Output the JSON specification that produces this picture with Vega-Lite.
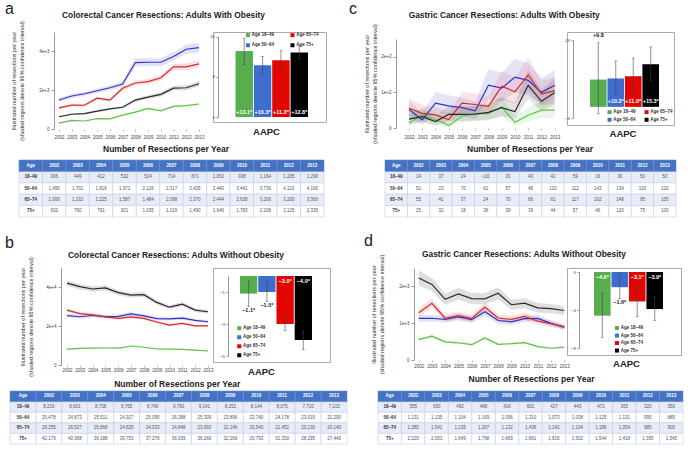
{
"$schema": "https://vega.github.io/schema/vega-lite/v6.json",
"padding": {"left": 5, "top": 0, "right": 2, "bottom": 2},
"background": "white",
"datasets": {
"la": [
{"age":"18–49","year":2002,"v":306,"lo":285,"hi":328},{"age":"18–49","year":2003,"v":449,"lo":420,"hi":478},{"age":"18–49","year":2004,"v":412,"lo":385,"hi":440},{"age":"18–49","year":2005,"v":532,"lo":500,"hi":565},{"age":"18–49","year":2006,"v":524,"lo":492,"hi":556},{"age":"18–49","year":2007,"v":714,"lo":675,"hi":753},{"age":"18–49","year":2008,"v":871,"lo":825,"hi":917},{"age":"18–49","year":2009,"v":1062,"lo":1008,"hi":1116},{"age":"18–49","year":2010,"v":938,"lo":888,"hi":988},{"age":"18–49","year":2011,"v":1164,"lo":1105,"hi":1223},{"age":"18–49","year":2012,"v":1205,"lo":1145,"hi":1265},{"age":"18–49","year":2013,"v":1290,"lo":1228,"hi":1352},
{"age":"50–64","year":2002,"v":1495,"lo":1405,"hi":1585},{"age":"50–64","year":2003,"v":1702,"lo":1600,"hi":1804},{"age":"50–64","year":2004,"v":1816,"lo":1707,"hi":1925},{"age":"50–64","year":2005,"v":1971,"lo":1853,"hi":2089},{"age":"50–64","year":2006,"v":2126,"lo":1998,"hi":2254},{"age":"50–64","year":2007,"v":2317,"lo":2178,"hi":2456},{"age":"50–64","year":2008,"v":3426,"lo":3220,"hi":3632},{"age":"50–64","year":2009,"v":3440,"lo":3234,"hi":3646},{"age":"50–64","year":2010,"v":3441,"lo":3235,"hi":3647},{"age":"50–64","year":2011,"v":3736,"lo":3512,"hi":3960},{"age":"50–64","year":2012,"v":4110,"lo":3863,"hi":4357},{"age":"50–64","year":2013,"v":4190,"lo":3939,"hi":4441},
{"age":"65–74","year":2002,"v":1093,"lo":1033,"hi":1153},{"age":"65–74","year":2003,"v":1232,"lo":1164,"hi":1300},{"age":"65–74","year":2004,"v":1225,"lo":1158,"hi":1292},{"age":"65–74","year":2005,"v":1587,"lo":1500,"hi":1674},{"age":"65–74","year":2006,"v":1484,"lo":1402,"hi":1566},{"age":"65–74","year":2007,"v":2098,"lo":1983,"hi":2213},{"age":"65–74","year":2008,"v":2370,"lo":2240,"hi":2500},{"age":"65–74","year":2009,"v":2444,"lo":2310,"hi":2578},{"age":"65–74","year":2010,"v":2638,"lo":2493,"hi":2783},{"age":"65–74","year":2011,"v":3206,"lo":3030,"hi":3382},{"age":"65–74","year":2012,"v":3200,"lo":3024,"hi":3376},{"age":"65–74","year":2013,"v":3360,"lo":3175,"hi":3545},
{"age":"75+","year":2002,"v":632,"lo":594,"hi":670},{"age":"75+","year":2003,"v":760,"lo":714,"hi":806},{"age":"75+","year":2004,"v":791,"lo":744,"hi":838},{"age":"75+","year":2005,"v":921,"lo":866,"hi":976},{"age":"75+","year":2006,"v":1035,"lo":973,"hi":1097},{"age":"75+","year":2007,"v":1119,"lo":1052,"hi":1186},{"age":"75+","year":2008,"v":1490,"lo":1401,"hi":1579},{"age":"75+","year":2009,"v":1646,"lo":1547,"hi":1745},{"age":"75+","year":2010,"v":1783,"lo":1676,"hi":1890},{"age":"75+","year":2011,"v":2108,"lo":1982,"hi":2234},{"age":"75+","year":2012,"v":2125,"lo":1998,"hi":2252},{"age":"75+","year":2013,"v":2335,"lo":2195,"hi":2475}
],
"lb": [
{"age":"18–49","year":2002,"v":8216,"lo":7970,"hi":8460},{"age":"18–49","year":2003,"v":8601,"lo":8345,"hi":8860},{"age":"18–49","year":2004,"v":8738,"lo":8475,"hi":9000},{"age":"18–49","year":2005,"v":8765,"lo":8500,"hi":9030},{"age":"18–49","year":2006,"v":8740,"lo":8480,"hi":9000},{"age":"18–49","year":2007,"v":9783,"lo":9490,"hi":10080},{"age":"18–49","year":2008,"v":9141,"lo":8870,"hi":9415},{"age":"18–49","year":2009,"v":8252,"lo":8005,"hi":8500},{"age":"18–49","year":2010,"v":8144,"lo":7900,"hi":8390},{"age":"18–49","year":2011,"v":8075,"lo":7830,"hi":8320},{"age":"18–49","year":2012,"v":7710,"lo":7480,"hi":7940},{"age":"18–49","year":2013,"v":7215,"lo":7000,"hi":7430},
{"age":"50–64","year":2002,"v":25478,"lo":24590,"hi":26370},{"age":"50–64","year":2003,"v":24873,"lo":24000,"hi":25745},{"age":"50–64","year":2004,"v":25511,"lo":24620,"hi":26400},{"age":"50–64","year":2005,"v":24927,"lo":24055,"hi":25800},{"age":"50–64","year":2006,"v":25095,"lo":24215,"hi":25975},{"age":"50–64","year":2007,"v":26388,"lo":25465,"hi":27310},{"age":"50–64","year":2008,"v":25309,"lo":24425,"hi":26195},{"age":"50–64","year":2009,"v":23896,"lo":23060,"hi":24735},{"age":"50–64","year":2010,"v":23740,"lo":22910,"hi":24570},{"age":"50–64","year":2011,"v":24178,"lo":23330,"hi":25025},{"age":"50–64","year":2012,"v":23015,"lo":22210,"hi":23820},{"age":"50–64","year":2013,"v":22290,"lo":21510,"hi":23070},
{"age":"65–74","year":2002,"v":28255,"lo":27265,"hi":29245},{"age":"65–74","year":2003,"v":26527,"lo":25600,"hi":27455},{"age":"65–74","year":2004,"v":25868,"lo":24960,"hi":26775},{"age":"65–74","year":2005,"v":24825,"lo":23955,"hi":25695},{"age":"65–74","year":2006,"v":24033,"lo":23190,"hi":24875},{"age":"65–74","year":2007,"v":24848,"lo":23980,"hi":25720},{"age":"65–74","year":2008,"v":23993,"lo":23155,"hi":24830},{"age":"65–74","year":2009,"v":22146,"lo":21370,"hi":22920},{"age":"65–74","year":2010,"v":20540,"lo":19820,"hi":21260},{"age":"65–74","year":2011,"v":21452,"lo":20700,"hi":22205},{"age":"65–74","year":2012,"v":20130,"lo":19425,"hi":20835},{"age":"65–74","year":2013,"v":20140,"lo":19435,"hi":20845},
{"age":"75+","year":2002,"v":42179,"lo":40700,"hi":43655},{"age":"75+","year":2003,"v":40368,"lo":38955,"hi":41780},{"age":"75+","year":2004,"v":39188,"lo":37815,"hi":40560},{"age":"75+","year":2005,"v":39753,"lo":38360,"hi":41145},{"age":"75+","year":2006,"v":37276,"lo":35970,"hi":38580},{"age":"75+","year":2007,"v":36039,"lo":34780,"hi":37300},{"age":"75+","year":2008,"v":36269,"lo":35000,"hi":37540},{"age":"75+","year":2009,"v":32269,"lo":31140,"hi":33400},{"age":"75+","year":2010,"v":29793,"lo":28750,"hi":30835},{"age":"75+","year":2011,"v":31330,"lo":30235,"hi":32425},{"age":"75+","year":2012,"v":28295,"lo":27305,"hi":29285},{"age":"75+","year":2013,"v":27440,"lo":26480,"hi":28400}
],
"lc": [
{"age":"18–49","year":2002,"v":14,"lo":5,"hi":30},{"age":"18–49","year":2003,"v":37,"lo":18,"hi":60},{"age":"18–49","year":2004,"v":24,"lo":10,"hi":45},{"age":"18–49","year":2005,"v":7,"lo":2,"hi":20,"t":"≤10"},{"age":"18–49","year":2006,"v":33,"lo":15,"hi":55},{"age":"18–49","year":2007,"v":40,"lo":20,"hi":62},{"age":"18–49","year":2008,"v":41,"lo":20,"hi":65},{"age":"18–49","year":2009,"v":59,"lo":33,"hi":88},{"age":"18–49","year":2010,"v":16,"lo":5,"hi":32},{"age":"18–49","year":2011,"v":36,"lo":18,"hi":58},{"age":"18–49","year":2012,"v":50,"lo":28,"hi":76},{"age":"18–49","year":2013,"v":50,"lo":28,"hi":76},
{"age":"50–64","year":2002,"v":52,"lo":30,"hi":78},{"age":"50–64","year":2003,"v":23,"lo":10,"hi":40},{"age":"50–64","year":2004,"v":70,"lo":42,"hi":102},{"age":"50–64","year":2005,"v":62,"lo":36,"hi":92},{"age":"50–64","year":2006,"v":57,"lo":32,"hi":86},{"age":"50–64","year":2007,"v":48,"lo":26,"hi":74},{"age":"50–64","year":2008,"v":120,"lo":80,"hi":165},{"age":"50–64","year":2009,"v":112,"lo":74,"hi":155},{"age":"50–64","year":2010,"v":143,"lo":100,"hi":195},{"age":"50–64","year":2011,"v":134,"lo":92,"hi":182},{"age":"50–64","year":2012,"v":100,"lo":66,"hi":140},{"age":"50–64","year":2013,"v":120,"lo":82,"hi":163},
{"age":"65–74","year":2002,"v":55,"lo":32,"hi":83},{"age":"65–74","year":2003,"v":41,"lo":22,"hi":65},{"age":"65–74","year":2004,"v":37,"lo":19,"hi":60},{"age":"65–74","year":2005,"v":24,"lo":10,"hi":42},{"age":"65–74","year":2006,"v":70,"lo":42,"hi":102},{"age":"65–74","year":2007,"v":66,"lo":40,"hi":97},{"age":"65–74","year":2008,"v":61,"lo":36,"hi":90},{"age":"65–74","year":2009,"v":117,"lo":80,"hi":160},{"age":"65–74","year":2010,"v":102,"lo":68,"hi":142},{"age":"65–74","year":2011,"v":149,"lo":105,"hi":198},{"age":"65–74","year":2012,"v":95,"lo":62,"hi":133},{"age":"65–74","year":2013,"v":105,"lo":70,"hi":145},
{"age":"75+","year":2002,"v":25,"lo":11,"hi":43},{"age":"75+","year":2003,"v":32,"lo":16,"hi":53},{"age":"75+","year":2004,"v":18,"lo":7,"hi":34},{"age":"75+","year":2005,"v":38,"lo":20,"hi":61},{"age":"75+","year":2006,"v":38,"lo":20,"hi":61},{"age":"75+","year":2007,"v":39,"lo":21,"hi":62},{"age":"75+","year":2008,"v":44,"lo":24,"hi":69},{"age":"75+","year":2009,"v":57,"lo":33,"hi":86},{"age":"75+","year":2010,"v":46,"lo":25,"hi":72},{"age":"75+","year":2011,"v":120,"lo":82,"hi":163},{"age":"75+","year":2012,"v":75,"lo":47,"hi":108},{"age":"75+","year":2013,"v":100,"lo":66,"hi":140}
],
"ld": [
{"age":"18–49","year":2002,"v":555,"lo":510,"hi":600},{"age":"18–49","year":2003,"v":650,"lo":598,"hi":702},{"age":"18–49","year":2004,"v":492,"lo":452,"hi":532},{"age":"18–49","year":2005,"v":468,"lo":430,"hi":506},{"age":"18–49","year":2006,"v":416,"lo":382,"hi":450},{"age":"18–49","year":2007,"v":601,"lo":553,"hi":649},{"age":"18–49","year":2008,"v":427,"lo":393,"hi":461},{"age":"18–49","year":2009,"v":443,"lo":408,"hi":478},{"age":"18–49","year":2010,"v":471,"lo":433,"hi":509},{"age":"18–49","year":2011,"v":365,"lo":336,"hi":394},{"age":"18–49","year":2012,"v":320,"lo":294,"hi":346},{"age":"18–49","year":2013,"v":350,"lo":322,"hi":378},
{"age":"50–64","year":2002,"v":1131,"lo":1040,"hi":1222},{"age":"50–64","year":2003,"v":1135,"lo":1044,"hi":1226},{"age":"50–64","year":2004,"v":1104,"lo":1016,"hi":1192},{"age":"50–64","year":2005,"v":1169,"lo":1075,"hi":1263},{"age":"50–64","year":2006,"v":1096,"lo":1008,"hi":1184},{"age":"50–64","year":2007,"v":1310,"lo":1205,"hi":1415},{"age":"50–64","year":2008,"v":1073,"lo":987,"hi":1159},{"age":"50–64","year":2009,"v":1038,"lo":955,"hi":1121},{"age":"50–64","year":2010,"v":1125,"lo":1035,"hi":1215},{"age":"50–64","year":2011,"v":1131,"lo":1040,"hi":1222},{"age":"50–64","year":2012,"v":995,"lo":915,"hi":1075},{"age":"50–64","year":2013,"v":885,"lo":814,"hi":956},
{"age":"65–74","year":2002,"v":1285,"lo":1182,"hi":1388},{"age":"65–74","year":2003,"v":1541,"lo":1418,"hi":1664},{"age":"65–74","year":2004,"v":1135,"lo":1044,"hi":1226},{"age":"65–74","year":2005,"v":1207,"lo":1110,"hi":1304},{"age":"65–74","year":2006,"v":1132,"lo":1041,"hi":1223},{"age":"65–74","year":2007,"v":1438,"lo":1323,"hi":1553},{"age":"65–74","year":2008,"v":1142,"lo":1051,"hi":1233},{"age":"65–74","year":2009,"v":1104,"lo":1016,"hi":1192},{"age":"65–74","year":2010,"v":1186,"lo":1091,"hi":1281},{"age":"65–74","year":2011,"v":1054,"lo":970,"hi":1138},{"age":"65–74","year":2012,"v":985,"lo":906,"hi":1064},{"age":"65–74","year":2013,"v":905,"lo":833,"hi":977},
{"age":"75+","year":2002,"v":2229,"lo":2030,"hi":2430},{"age":"75+","year":2003,"v":2053,"lo":1870,"hi":2238},{"age":"75+","year":2004,"v":1649,"lo":1500,"hi":1798},{"age":"75+","year":2005,"v":1798,"lo":1636,"hi":1960},{"age":"75+","year":2006,"v":1669,"lo":1519,"hi":1819},{"age":"75+","year":2007,"v":1661,"lo":1511,"hi":1811},{"age":"75+","year":2008,"v":1815,"lo":1652,"hi":1978},{"age":"75+","year":2009,"v":1502,"lo":1367,"hi":1637},{"age":"75+","year":2010,"v":1544,"lo":1405,"hi":1683},{"age":"75+","year":2011,"v":1418,"lo":1290,"hi":1546},{"age":"75+","year":2012,"v":1395,"lo":1269,"hi":1521},{"age":"75+","year":2013,"v":1345,"lo":1224,"hi":1466}
],
"ba": [{"age":"18–49","v":13.1,"lo":10.4,"hi":15.7,"lbl":"+13.1*"},{"age":"50–64","v":10.3,"lo":8.5,"hi":12.0,"lbl":"+10.3*"},{"age":"65–74","v":11.3,"lo":9.4,"hi":13.2,"lbl":"+11.3*"},{"age":"75+","v":12.8,"lo":11.4,"hi":14.2,"lbl":"+12.8*"}],
"bb": [{"age":"18–49","v":-1.1,"lo":-1.9,"hi":-0.3,"lbl":"−1.1*"},{"age":"50–64","v":-1.0,"lo":-1.6,"hi":-0.4,"lbl":"−1.0*"},{"age":"65–74","v":-3.0,"lo":-3.4,"hi":-2.5,"lbl":"−3.0*"},{"age":"75+","v":-4.0,"lo":-4.6,"hi":-3.4,"lbl":"−4.0*"}],
"bc": [{"age":"18–49","v":9.8,"lo":-2.5,"hi":23.0,"lbl":"+9.8"},{"age":"50–64","v":10.2,"lo":4.5,"hi":16.5,"lbl":"+10.2*"},{"age":"65–74","v":11.0,"lo":4.5,"hi":17.5,"lbl":"+11.0*"},{"age":"75+","v":15.3,"lo":9.3,"hi":21.5,"lbl":"+15.3*"}],
"bd": [{"age":"18–49","v":-4.6,"lo":-6.9,"hi":-2.2,"lbl":"−4.6*"},{"age":"50–64","v":-1.6,"lo":-2.8,"hi":-0.3,"lbl":"−1.6*"},{"age":"65–74","v":-3.1,"lo":-4.7,"hi":-1.3,"lbl":"−3.1*"},{"age":"75+","v":-3.9,"lo":-5.1,"hi":-2.6,"lbl":"−3.9*"}]
},
"columns": 4,
"align": "each",
"bounds": "flush",
"spacing": 0,
"resolve": {"scale": {"color": "independent"}, "legend": {"color": "independent"}},
"concat": [
{
"title": {"text": "a", "anchor": "start", "frame": "group", "fontSize": 16, "fontWeight": "normal", "dx": -5, "offset": 4},
"width": 203, "height": 97,
"data": {"name": "la"},
"encoding": {
"x": {"field": "year", "type": "ordinal", "scale": {"type": "point", "range": [49, 189], "padding": 0}, "axis": {"title": "Number of Resections per Year", "titleFontSize": 8.5, "titleFontWeight": "bold", "titleColor": "#222", "titleX": 155.5, "titlePadding": 5.1, "labelAngle": 0, "labelFontSize": 4.5, "labelColor": "#444", "labelPadding": 3.5, "labelOverlap": false, "domain": false, "tickSize": 2, "tickColor": "#bbb"}},
"color": {"field": "age", "type": "nominal", "scale": {"domain": ["18–49","50–64","65–74","75+"], "range": ["#5FC24A","#3333CC","#D52B2B","#2A2A2A"]}, "legend": null}
},
"layer": [
{"mark": {"type": "area", "opacity": 0.15}, "encoding": {"y": {"field": "lo", "type": "quantitative", "scale": {"domain": [0, 5000], "nice": false}, "axis": {"offset": -44, "title": ["Illustrated number of resections per year", "(shaded regions denote 95% confidence interval)"], "titleFontSize": 5.5, "titleFontWeight": "normal", "titleColor": "#333", "titleLineHeight": 8, "titlePadding": 14, "values": [0,1000,2000,3000,4000,5000], "format": ",", "labelOverlap": false, "labelFontSize": 4.6, "labelColor": "#444", "labelPadding": 2, "tickSize": 3, "tickColor": "#999", "domainColor": "#999", "grid": false}}, "y2": {"field": "hi"}}},
{"mark": {"type": "line", "strokeWidth": 1.2}, "encoding": {"y": {"field": "v", "type": "quantitative"}}}
]
},
{
"title": {"text": "Colorectal Cancer Resections: Adults With Obesity", "anchor": "start", "frame": "group", "fontSize": 8.4, "fontWeight": "bold", "dx": -151, "offset": 12.8},
"width": 113, "height": 90,
"view": {"stroke": "#aaaaaa", "strokeWidth": 1},
"data": {"name": "ba"},
"encoding": {
"x": {"field": "age", "type": "nominal", "sort": null, "scale": {"range": [22.5, 95], "paddingInner": 0.05, "paddingOuter": 0}, "axis": {"title": "AAPC", "titleX": 53, "labels": false, "ticks": false, "domain": false, "titleFontSize": 9.5, "titleFontWeight": "bold", "titleColor": "#222", "titlePadding": 4.7}}
},
"layer": [
{"mark": {"type": "bar"}, "encoding": {"y": {"field": "v", "type": "quantitative", "scale": {"domain": [0, 16], "range": [85, 4.5], "nice": false}, "axis": {"values": [0,4,8,12,16], "offset": -5, "title": null, "grid": false, "labelOverlap": false, "labelFontSize": 4.4, "labelColor": "#444", "labelPadding": 1.5, "tickSize": 2, "tickColor": "#999", "domainColor": "#999"}}, "color": {"field": "age", "type": "nominal", "scale": {"domain": ["18–49","50–64","65–74","75+"], "range": ["#58AD4F","#3D6DCF","#E10600","#000000"]}, "legend": {"title": null, "orient": "none", "legendX": 32.7, "legendY": 0.5, "columns": 2, "symbolType": "square", "symbolSize": 16, "symbolStrokeWidth": 0, "labelFontSize": 4.5, "labelFontWeight": "bold", "labelColor": "#333", "columnPadding": 15.5, "rowPadding": 4.5, "padding": 0, "labelOffset": 1.5, "labelExpr": "'Age ' + datum.label"}}}},
{"mark": {"type": "rule", "color": "#444", "strokeWidth": 0.6}, "encoding": {"y": {"field": "lo", "type": "quantitative"}, "y2": {"field": "hi"}}},
{"mark": {"type": "tick", "color": "#444", "thickness": 0.6, "size": 3}, "encoding": {"y": {"field": "hi", "type": "quantitative"}}},
{"mark": {"type": "tick", "color": "#444", "thickness": 0.6, "size": 3}, "encoding": {"y": {"field": "lo", "type": "quantitative"}}},
{"mark": {"type": "text", "color": "white", "fontWeight": "bold", "fontSize": 5.5, "baseline": "bottom", "dy": -2.5}, "encoding": {"y": {"datum": 0}, "text": {"field": "lbl"}}}
]
},
{
"title": {"text": "c", "anchor": "start", "frame": "group", "fontSize": 16, "fontWeight": "normal", "dx": 19, "offset": 6.5},
"width": 237, "height": 96,
"data": {"name": "lc"},
"encoding": {
"x": {"field": "year", "type": "ordinal", "scale": {"type": "point", "range": [79, 224.7], "padding": 0}, "axis": {"title": "Number of Resections per Year", "titleFontSize": 8.5, "titleFontWeight": "bold", "titleColor": "#222", "titleX": 199.5, "titlePadding": 5.1, "labelAngle": 0, "labelFontSize": 4.5, "labelColor": "#444", "labelPadding": 4.5, "labelOverlap": false, "domain": false, "tickSize": 2, "tickColor": "#bbb"}},
"color": {"field": "age", "type": "nominal", "scale": {"domain": ["18–49","50–64","65–74","75+"], "range": ["#5FC24A","#3333CC","#D52B2B","#2A2A2A"]}, "legend": null}
},
"layer": [
{"mark": {"type": "area", "opacity": 0.13}, "encoding": {"y": {"field": "lo", "type": "quantitative", "scale": {"domain": [0, 250], "range": [96, 7], "nice": false}, "axis": {"offset": -66, "title": ["Illustrated number of resections per year", "(shaded regions denote 95% confidence interval)"], "titleFontSize": 5.5, "titleFontWeight": "normal", "titleColor": "#333", "titleLineHeight": 8, "titlePadding": 3, "values": [0,50,100,150,200,250], "format": ",", "labelOverlap": false, "labelFontSize": 4.6, "labelColor": "#444", "labelPadding": 2, "tickSize": 3, "tickColor": "#999", "domainColor": "#999", "grid": false}}, "y2": {"field": "hi"}}},
{"mark": {"type": "line", "strokeWidth": 1.2}, "encoding": {"y": {"field": "v", "type": "quantitative"}}}
]
},
{
"title": {"text": "Gastric Cancer Resections: Adults With Obesity", "anchor": "start", "frame": "group", "fontSize": 8.4, "fontWeight": "bold", "dx": -158.3, "offset": 12.6},
"width": 107, "height": 93,
"view": {"stroke": "#aaaaaa", "strokeWidth": 1},
"data": {"name": "bc"},
"encoding": {
"x": {"field": "age", "type": "nominal", "sort": null, "scale": {"range": [23, 92], "paddingInner": 0.05, "paddingOuter": 0}, "axis": {"title": "AAPC", "titleX": 55.5, "labels": false, "ticks": false, "domain": false, "titleFontSize": 9.5, "titleFontWeight": "bold", "titleColor": "#222", "titlePadding": 3}}
},
"layer": [
{"mark": {"type": "bar"}, "encoding": {"y": {"field": "v", "type": "quantitative", "scale": {"domain": [-4, 24], "range": [86, 8], "nice": false}, "axis": {"values": [-4,0,4,8,12,16,20,24], "offset": -6, "title": null, "grid": false, "labelOverlap": false, "labelFontSize": 4.4, "labelColor": "#444", "labelPadding": 1.5, "tickSize": 2, "tickColor": "#999", "domainColor": "#999"}}, "color": {"field": "age", "type": "nominal", "scale": {"domain": ["18–49","50–64","65–74","75+"], "range": ["#58AD4F","#3D6DCF","#E10600","#000000"]}, "legend": {"title": null, "orient": "none", "legendX": 40.3, "legendY": 77.5, "columns": 2, "symbolType": "square", "symbolSize": 16, "symbolStrokeWidth": 0, "labelFontSize": 4.5, "labelFontWeight": "bold", "labelColor": "#333", "columnPadding": 8, "rowPadding": 2, "padding": 0, "labelOffset": 1.5, "labelExpr": "'Age ' + datum.label"}}}},
{"mark": {"type": "rule", "color": "#444", "strokeWidth": 0.6}, "encoding": {"y": {"field": "lo", "type": "quantitative"}, "y2": {"field": "hi"}}},
{"mark": {"type": "tick", "color": "#444", "thickness": 0.6, "size": 3}, "encoding": {"y": {"field": "hi", "type": "quantitative"}}},
{"mark": {"type": "tick", "color": "#444", "thickness": 0.6, "size": 3}, "encoding": {"y": {"field": "lo", "type": "quantitative"}}},
{"transform": [{"filter": "indexof(datum.lbl, '*') >= 0"}], "mark": {"type": "text", "color": "white", "fontWeight": "bold", "fontSize": 5.5, "baseline": "bottom", "dy": -2.8}, "encoding": {"y": {"datum": 0}, "text": {"field": "lbl"}}},
{"transform": [{"filter": "indexof(datum.lbl, '*') < 0"}], "mark": {"type": "text", "color": "#222", "fontWeight": "bold", "fontSize": 5.5, "baseline": "bottom", "dy": -5}, "encoding": {"y": {"field": "hi", "type": "quantitative"}, "text": {"field": "lbl"}}}
]
},
{
"width": 203, "height": 139,
"data": {"name": "la"},
"transform": [{"calculate": "isValid(datum.t) ? datum.t : format(datum.v, ',')", "as": "txt"}],
"encoding": {
"x": {"field": "year", "type": "ordinal", "scale": {"domain": ["Age",2002,2003,2004,2005,2006,2007,2008,2009,2010,2011,2012,2013], "range": [9, 314], "paddingInner": 0, "paddingOuter": 0}, "axis": null},
"y": {"field": "age", "type": "ordinal", "scale": {"domain": ["hdr","18–49","50–64","65–74","75+"], "range": [31, 88], "paddingInner": 0, "paddingOuter": 0}, "axis": null}
},
"layer": [
{"mark": {"type": "rect", "stroke": "#C3CDEA", "strokeWidth": 0.6}, "encoding": {"fill": {"field": "age", "type": "nominal", "scale": {"domain": ["18–49","50–64","65–74","75+"], "range": ["#E8ECF8","#FFFFFF","#E8ECF8","#FFFFFF"]}, "legend": null}}},
{"transform": [{"aggregate": [{"op": "count", "as": "n"}], "groupby": ["age"]}], "mark": {"type": "rect", "stroke": "#C3CDEA", "strokeWidth": 0.6}, "encoding": {"x": {"datum": "Age", "type": "ordinal"}, "fill": {"field": "age", "type": "nominal", "legend": null}}},
{"transform": [{"aggregate": [{"op": "count", "as": "n"}], "groupby": ["year"]}], "mark": {"type": "rect", "fill": "#4472C4", "stroke": "#6C8ED3", "strokeWidth": 0.6}, "encoding": {"y": {"datum": "hdr", "type": "ordinal"}}},
{"transform": [{"aggregate": [{"op": "count", "as": "n"}]}], "mark": {"type": "rect", "fill": "#4472C4", "stroke": "#6C8ED3", "strokeWidth": 0.6}, "encoding": {"x": {"datum": "Age", "type": "ordinal"}, "y": {"datum": "hdr", "type": "ordinal"}}},
{"mark": {"type": "text", "fontSize": 4.5, "color": "#555"}, "encoding": {"text": {"field": "txt"}}},
{"transform": [{"aggregate": [{"op": "count", "as": "n"}], "groupby": ["year"]}], "mark": {"type": "text", "fontSize": 4.5, "fontWeight": "bold", "color": "white"}, "encoding": {"y": {"datum": "hdr", "type": "ordinal"}, "text": {"field": "year", "type": "nominal"}}},
{"transform": [{"aggregate": [{"op": "count", "as": "n"}]}], "mark": {"type": "text", "fontSize": 4.5, "fontWeight": "bold", "color": "white", "text": "Age"}, "encoding": {"x": {"datum": "Age", "type": "ordinal"}, "y": {"datum": "hdr", "type": "ordinal"}}},
{"transform": [{"aggregate": [{"op": "count", "as": "n"}], "groupby": ["age"]}], "mark": {"type": "text", "fontSize": 4.5, "fontWeight": "bold", "color": "#333"}, "encoding": {"x": {"datum": "Age", "type": "ordinal"}, "text": {"field": "age", "type": "nominal"}}}
]
},
{
"width": 117, "height": 139,
"data": {"name": "lc"},
"transform": [{"calculate": "isValid(datum.t) ? datum.t : format(datum.v, ',')", "as": "txt"}],
"encoding": {
"x": {"field": "year", "type": "ordinal", "scale": {"domain": ["Age",2002,2003,2004,2005,2006,2007,2008,2009,2010,2011,2012,2013], "range": [172, 463], "paddingInner": 0, "paddingOuter": 0}, "axis": null},
"y": {"field": "age", "type": "ordinal", "scale": {"domain": ["hdr","18–49","50–64","65–74","75+"], "range": [31, 88], "paddingInner": 0, "paddingOuter": 0}, "axis": null}
},
"layer": [
{"mark": {"type": "rect", "stroke": "#C3CDEA", "strokeWidth": 0.6}, "encoding": {"fill": {"field": "age", "type": "nominal", "scale": {"domain": ["18–49","50–64","65–74","75+"], "range": ["#E8ECF8","#FFFFFF","#E8ECF8","#FFFFFF"]}, "legend": null}}},
{"transform": [{"aggregate": [{"op": "count", "as": "n"}], "groupby": ["age"]}], "mark": {"type": "rect", "stroke": "#C3CDEA", "strokeWidth": 0.6}, "encoding": {"x": {"datum": "Age", "type": "ordinal"}, "fill": {"field": "age", "type": "nominal", "legend": null}}},
{"transform": [{"aggregate": [{"op": "count", "as": "n"}], "groupby": ["year"]}], "mark": {"type": "rect", "fill": "#4472C4", "stroke": "#6C8ED3", "strokeWidth": 0.6}, "encoding": {"y": {"datum": "hdr", "type": "ordinal"}}},
{"transform": [{"aggregate": [{"op": "count", "as": "n"}]}], "mark": {"type": "rect", "fill": "#4472C4", "stroke": "#6C8ED3", "strokeWidth": 0.6}, "encoding": {"x": {"datum": "Age", "type": "ordinal"}, "y": {"datum": "hdr", "type": "ordinal"}}},
{"mark": {"type": "text", "fontSize": 4.5, "color": "#555"}, "encoding": {"text": {"field": "txt"}}},
{"transform": [{"aggregate": [{"op": "count", "as": "n"}], "groupby": ["year"]}], "mark": {"type": "text", "fontSize": 4.5, "fontWeight": "bold", "color": "white"}, "encoding": {"y": {"datum": "hdr", "type": "ordinal"}, "text": {"field": "year", "type": "nominal"}}},
{"transform": [{"aggregate": [{"op": "count", "as": "n"}]}], "mark": {"type": "text", "fontSize": 4.5, "fontWeight": "bold", "color": "white", "text": "Age"}, "encoding": {"x": {"datum": "Age", "type": "ordinal"}, "y": {"datum": "hdr", "type": "ordinal"}}},
{"transform": [{"aggregate": [{"op": "count", "as": "n"}], "groupby": ["age"]}], "mark": {"type": "text", "fontSize": 4.5, "fontWeight": "bold", "color": "#333"}, "encoding": {"x": {"datum": "Age", "type": "ordinal"}, "text": {"field": "age", "type": "nominal"}}}
]
},
{"width": 1, "height": 1, "data": {"values": []}, "mark": "point", "encoding": {}},
{"width": 1, "height": 1, "data": {"values": []}, "mark": "point", "encoding": {}},
{
"title": {"text": "b", "anchor": "start", "frame": "group", "fontSize": 16, "fontWeight": "normal", "dx": -5, "offset": 5.5},
"width": 203, "height": 97,
"data": {"name": "lb"},
"encoding": {
"x": {"field": "year", "type": "ordinal", "scale": {"type": "point", "range": [57, 198], "padding": 0}, "axis": {"title": "Number of Resections per Year", "titleFontSize": 8.5, "titleFontWeight": "bold", "titleColor": "#222", "titleX": 166.7, "titlePadding": 8, "labelAngle": 0, "labelFontSize": 4.5, "labelColor": "#444", "labelPadding": 0.4, "labelOverlap": false, "domain": false, "tickSize": 2, "tickColor": "#bbb"}},
"color": {"field": "age", "type": "nominal", "scale": {"domain": ["18–49","50–64","65–74","75+"], "range": ["#5FC24A","#3333CC","#D52B2B","#2A2A2A"]}, "legend": null}
},
"layer": [
{"mark": {"type": "area", "opacity": 0.15}, "encoding": {"y": {"field": "lo", "type": "quantitative", "scale": {"domain": [0, 50000], "nice": false}, "axis": {"offset": -51, "title": ["Illustrated number of resections per year", "(shaded regions denote 95% confidence interval)"], "titleFontSize": 5.5, "titleFontWeight": "normal", "titleColor": "#333", "titleLineHeight": 8, "titlePadding": 12.5, "values": [0,10000,20000,30000,40000,50000], "format": ",", "labelOverlap": false, "labelFontSize": 4.6, "labelColor": "#444", "labelPadding": 2, "tickSize": 3, "tickColor": "#999", "domainColor": "#999", "grid": false}}, "y2": {"field": "hi"}}},
{"mark": {"type": "line", "strokeWidth": 1.2}, "encoding": {"y": {"field": "v", "type": "quantitative"}}}
]
},
{
"title": {"text": "Colorectal Cancer Resections: Adults Without Obesity", "anchor": "start", "frame": "group", "fontSize": 8.4, "fontWeight": "bold", "dx": -145, "offset": 9},
"width": 117, "height": 94,
"view": {"stroke": "#aaaaaa", "strokeWidth": 1},
"data": {"name": "bb"},
"encoding": {
"x": {"field": "age", "type": "nominal", "sort": null, "scale": {"range": [27, 99], "paddingInner": 0.05, "paddingOuter": 0}, "axis": {"title": "AAPC", "titleX": 48, "labels": false, "ticks": false, "domain": false, "titleFontSize": 9.5, "titleFontWeight": "bold", "titleColor": "#222", "titlePadding": 4}}
},
"layer": [
{"mark": {"type": "bar"}, "encoding": {"y": {"field": "v", "type": "quantitative", "scale": {"domain": [-5, 0], "range": [88, 8], "nice": false}, "axis": {"values": [-5,-4,-3,-2,-1,0], "offset": -15, "title": null, "grid": false, "labelOverlap": false, "labelFontSize": 4.4, "labelColor": "#444", "labelPadding": 1.5, "tickSize": 2, "tickColor": "#999", "domainColor": "#999"}}, "color": {"field": "age", "type": "nominal", "scale": {"domain": ["18–49","50–64","65–74","75+"], "range": ["#58AD4F","#3D6DCF","#E10600","#000000"]}, "legend": {"title": null, "orient": "none", "legendX": 24, "legendY": 58, "columns": 1, "symbolType": "square", "symbolSize": 16, "symbolStrokeWidth": 0, "labelFontSize": 4.5, "labelFontWeight": "bold", "labelColor": "#333", "rowPadding": 3, "padding": 0, "labelOffset": 1.5, "labelExpr": "'Age ' + datum.label"}}}},
{"mark": {"type": "rule", "color": "#444", "strokeWidth": 0.6}, "encoding": {"y": {"field": "lo", "type": "quantitative"}, "y2": {"field": "hi"}}},
{"mark": {"type": "tick", "color": "#444", "thickness": 0.6, "size": 3}, "encoding": {"y": {"field": "hi", "type": "quantitative"}}},
{"mark": {"type": "tick", "color": "#444", "thickness": 0.6, "size": 3}, "encoding": {"y": {"field": "lo", "type": "quantitative"}}},
{"transform": [{"filter": "datum.v <= -2"}], "mark": {"type": "text", "color": "white", "fontWeight": "bold", "fontSize": 5.5, "baseline": "top", "dy": 2.5}, "encoding": {"y": {"datum": 0}, "text": {"field": "lbl"}}},
{"transform": [{"filter": "datum.v > -2"}], "mark": {"type": "text", "color": "#222", "fontWeight": "bold", "fontSize": 5.5, "baseline": "top", "dy": 1.5}, "encoding": {"y": {"field": "lo", "type": "quantitative"}, "text": {"field": "lbl"}}}
]
},
{
"title": {"text": "d", "anchor": "start", "frame": "group", "fontSize": 16, "fontWeight": "normal", "dx": 34, "offset": 5},
"width": 237, "height": 92,
"data": {"name": "ld"},
"encoding": {
"x": {"field": "year", "type": "ordinal", "scale": {"type": "point", "range": [88.7, 234.3], "padding": 0}, "axis": {"title": "Number of Resections per Year", "titleFontSize": 8.5, "titleFontWeight": "bold", "titleColor": "#222", "titleX": 201, "titlePadding": 7, "labelAngle": 0, "labelFontSize": 4.5, "labelColor": "#444", "labelPadding": 1.4, "labelOverlap": false, "domain": false, "tickSize": 2, "tickColor": "#bbb"}},
"color": {"field": "age", "type": "nominal", "scale": {"domain": ["18–49","50–64","65–74","75+"], "range": ["#5FC24A","#3333CC","#D52B2B","#2A2A2A"]}, "legend": null}
},
"layer": [
{"mark": {"type": "area", "opacity": 0.15}, "encoding": {"y": {"field": "lo", "type": "quantitative", "scale": {"domain": [0, 2500], "nice": false}, "axis": {"offset": -84, "title": ["Illustrated number of resections per year", "(shaded regions denote 95% confidence interval)"], "titleFontSize": 5.5, "titleFontWeight": "normal", "titleColor": "#333", "titleLineHeight": 8, "titlePadding": 14.5, "values": [0,500,1000,1500,2000,2500], "format": ",", "labelOverlap": false, "labelFontSize": 4.6, "labelColor": "#444", "labelPadding": 2, "tickSize": 3, "tickColor": "#999", "domainColor": "#999", "grid": false}}, "y2": {"field": "hi"}}},
{"mark": {"type": "line", "strokeWidth": 1.2}, "encoding": {"y": {"field": "v", "type": "quantitative"}}}
]
},
{
"title": {"text": "Gastric Cancer Resections: Adults Without Obesity", "anchor": "start", "frame": "group", "fontSize": 8.4, "fontWeight": "bold", "dx": -145, "offset": 10},
"width": 114, "height": 87,
"view": {"stroke": "#aaaaaa", "strokeWidth": 1},
"data": {"name": "bd"},
"encoding": {
"x": {"field": "age", "type": "nominal", "sort": null, "scale": {"range": [27, 96], "paddingInner": 0.05, "paddingOuter": 0}, "axis": {"title": "AAPC", "titleX": 59, "labels": false, "ticks": false, "domain": false, "titleFontSize": 9.5, "titleFontWeight": "bold", "titleColor": "#222", "titlePadding": 3}}
},
"layer": [
{"mark": {"type": "bar"}, "encoding": {"y": {"field": "v", "type": "quantitative", "scale": {"domain": [-8, 0], "range": [80, 4], "nice": false}, "axis": {"values": [-8,-7,-6,-5,-4,-3,-2,-1,0], "offset": -12, "title": null, "grid": false, "labelOverlap": false, "labelFontSize": 4.4, "labelColor": "#444", "labelPadding": 1.5, "tickSize": 2, "tickColor": "#999", "domainColor": "#999"}}, "color": {"field": "age", "type": "nominal", "scale": {"domain": ["18–49","50–64","65–74","75+"], "range": ["#58AD4F","#3D6DCF","#E10600","#000000"]}, "legend": {"title": null, "orient": "none", "legendX": 47.7, "legendY": 57.8, "columns": 1, "symbolType": "square", "symbolSize": 16, "symbolStrokeWidth": 0, "labelFontSize": 4.5, "labelFontWeight": "bold", "labelColor": "#333", "rowPadding": 1.5, "padding": 0, "labelOffset": 1.5, "labelExpr": "'Age ' + datum.label"}}}},
{"mark": {"type": "rule", "color": "#444", "strokeWidth": 0.6}, "encoding": {"y": {"field": "lo", "type": "quantitative"}, "y2": {"field": "hi"}}},
{"mark": {"type": "tick", "color": "#444", "thickness": 0.6, "size": 3}, "encoding": {"y": {"field": "hi", "type": "quantitative"}}},
{"mark": {"type": "tick", "color": "#444", "thickness": 0.6, "size": 3}, "encoding": {"y": {"field": "lo", "type": "quantitative"}}},
{"transform": [{"filter": "datum.v <= -2"}], "mark": {"type": "text", "color": "white", "fontWeight": "bold", "fontSize": 5.5, "baseline": "top", "dy": 2.5}, "encoding": {"y": {"datum": 0}, "text": {"field": "lbl"}}},
{"transform": [{"filter": "datum.v > -2"}], "mark": {"type": "text", "color": "#222", "fontWeight": "bold", "fontSize": 5.5, "baseline": "top", "dy": 1.5}, "encoding": {"y": {"field": "lo", "type": "quantitative"}, "text": {"field": "lbl"}}}
]
},
{
"width": 203, "height": 79,
"data": {"name": "lb"},
"transform": [{"calculate": "isValid(datum.t) ? datum.t : format(datum.v, ',')", "as": "txt"}],
"encoding": {
"x": {"field": "year", "type": "ordinal", "scale": {"domain": ["Age",2002,2003,2004,2005,2006,2007,2008,2009,2010,2011,2012,2013], "range": [0, 337], "paddingInner": 0, "paddingOuter": 0}, "axis": null},
"y": {"field": "age", "type": "ordinal", "scale": {"domain": ["hdr","18–49","50–64","65–74","75+"], "range": [26, 79], "paddingInner": 0, "paddingOuter": 0}, "axis": null}
},
"layer": [
{"mark": {"type": "rect", "stroke": "#C3CDEA", "strokeWidth": 0.6}, "encoding": {"fill": {"field": "age", "type": "nominal", "scale": {"domain": ["18–49","50–64","65–74","75+"], "range": ["#E8ECF8","#FFFFFF","#E8ECF8","#FFFFFF"]}, "legend": null}}},
{"transform": [{"aggregate": [{"op": "count", "as": "n"}], "groupby": ["age"]}], "mark": {"type": "rect", "stroke": "#C3CDEA", "strokeWidth": 0.6}, "encoding": {"x": {"datum": "Age", "type": "ordinal"}, "fill": {"field": "age", "type": "nominal", "legend": null}}},
{"transform": [{"aggregate": [{"op": "count", "as": "n"}], "groupby": ["year"]}], "mark": {"type": "rect", "fill": "#4472C4", "stroke": "#6C8ED3", "strokeWidth": 0.6}, "encoding": {"y": {"datum": "hdr", "type": "ordinal"}}},
{"transform": [{"aggregate": [{"op": "count", "as": "n"}]}], "mark": {"type": "rect", "fill": "#4472C4", "stroke": "#6C8ED3", "strokeWidth": 0.6}, "encoding": {"x": {"datum": "Age", "type": "ordinal"}, "y": {"datum": "hdr", "type": "ordinal"}}},
{"mark": {"type": "text", "fontSize": 4.5, "color": "#555"}, "encoding": {"text": {"field": "txt"}}},
{"transform": [{"aggregate": [{"op": "count", "as": "n"}], "groupby": ["year"]}], "mark": {"type": "text", "fontSize": 4.5, "fontWeight": "bold", "color": "white"}, "encoding": {"y": {"datum": "hdr", "type": "ordinal"}, "text": {"field": "year", "type": "nominal"}}},
{"transform": [{"aggregate": [{"op": "count", "as": "n"}]}], "mark": {"type": "text", "fontSize": 4.5, "fontWeight": "bold", "color": "white", "text": "Age"}, "encoding": {"x": {"datum": "Age", "type": "ordinal"}, "y": {"datum": "hdr", "type": "ordinal"}}},
{"transform": [{"aggregate": [{"op": "count", "as": "n"}], "groupby": ["age"]}], "mark": {"type": "text", "fontSize": 4.5, "fontWeight": "bold", "color": "#333"}, "encoding": {"x": {"datum": "Age", "type": "ordinal"}, "text": {"field": "age", "type": "nominal"}}}
]
},
{
"width": 117, "height": 79,
"data": {"name": "ld"},
"transform": [{"calculate": "isValid(datum.t) ? datum.t : format(datum.v, ',')", "as": "txt"}],
"encoding": {
"x": {"field": "year", "type": "ordinal", "scale": {"domain": ["Age",2002,2003,2004,2005,2006,2007,2008,2009,2010,2011,2012,2013], "range": [165, 470], "paddingInner": 0, "paddingOuter": 0}, "axis": null},
"y": {"field": "age", "type": "ordinal", "scale": {"domain": ["hdr","18–49","50–64","65–74","75+"], "range": [26, 79], "paddingInner": 0, "paddingOuter": 0}, "axis": null}
},
"layer": [
{"mark": {"type": "rect", "stroke": "#C3CDEA", "strokeWidth": 0.6}, "encoding": {"fill": {"field": "age", "type": "nominal", "scale": {"domain": ["18–49","50–64","65–74","75+"], "range": ["#E8ECF8","#FFFFFF","#E8ECF8","#FFFFFF"]}, "legend": null}}},
{"transform": [{"aggregate": [{"op": "count", "as": "n"}], "groupby": ["age"]}], "mark": {"type": "rect", "stroke": "#C3CDEA", "strokeWidth": 0.6}, "encoding": {"x": {"datum": "Age", "type": "ordinal"}, "fill": {"field": "age", "type": "nominal", "legend": null}}},
{"transform": [{"aggregate": [{"op": "count", "as": "n"}], "groupby": ["year"]}], "mark": {"type": "rect", "fill": "#4472C4", "stroke": "#6C8ED3", "strokeWidth": 0.6}, "encoding": {"y": {"datum": "hdr", "type": "ordinal"}}},
{"transform": [{"aggregate": [{"op": "count", "as": "n"}]}], "mark": {"type": "rect", "fill": "#4472C4", "stroke": "#6C8ED3", "strokeWidth": 0.6}, "encoding": {"x": {"datum": "Age", "type": "ordinal"}, "y": {"datum": "hdr", "type": "ordinal"}}},
{"mark": {"type": "text", "fontSize": 4.5, "color": "#555"}, "encoding": {"text": {"field": "txt"}}},
{"transform": [{"aggregate": [{"op": "count", "as": "n"}], "groupby": ["year"]}], "mark": {"type": "text", "fontSize": 4.5, "fontWeight": "bold", "color": "white"}, "encoding": {"y": {"datum": "hdr", "type": "ordinal"}, "text": {"field": "year", "type": "nominal"}}},
{"transform": [{"aggregate": [{"op": "count", "as": "n"}]}], "mark": {"type": "text", "fontSize": 4.5, "fontWeight": "bold", "color": "white", "text": "Age"}, "encoding": {"x": {"datum": "Age", "type": "ordinal"}, "y": {"datum": "hdr", "type": "ordinal"}}},
{"transform": [{"aggregate": [{"op": "count", "as": "n"}], "groupby": ["age"]}], "mark": {"type": "text", "fontSize": 4.5, "fontWeight": "bold", "color": "#333"}, "encoding": {"x": {"datum": "Age", "type": "ordinal"}, "text": {"field": "age", "type": "nominal"}}}
]
},
{"width": 1, "height": 1, "data": {"values": []}, "mark": "point", "encoding": {}},
{"width": 1, "height": 1, "data": {"values": []}, "mark": "point", "encoding": {}}
],
"config": {
"font": "Liberation Sans",
"view": {"stroke": null},
"axis": {"labelFont": "Liberation Sans", "titleFont": "Liberation Sans", "grid": false, "labelBound": false},
"legend": {"labelFont": "Liberation Sans"},
"title": {"font": "Liberation Sans", "color": "#222"},
"text": {"font": "Liberation Sans"}
}
}
